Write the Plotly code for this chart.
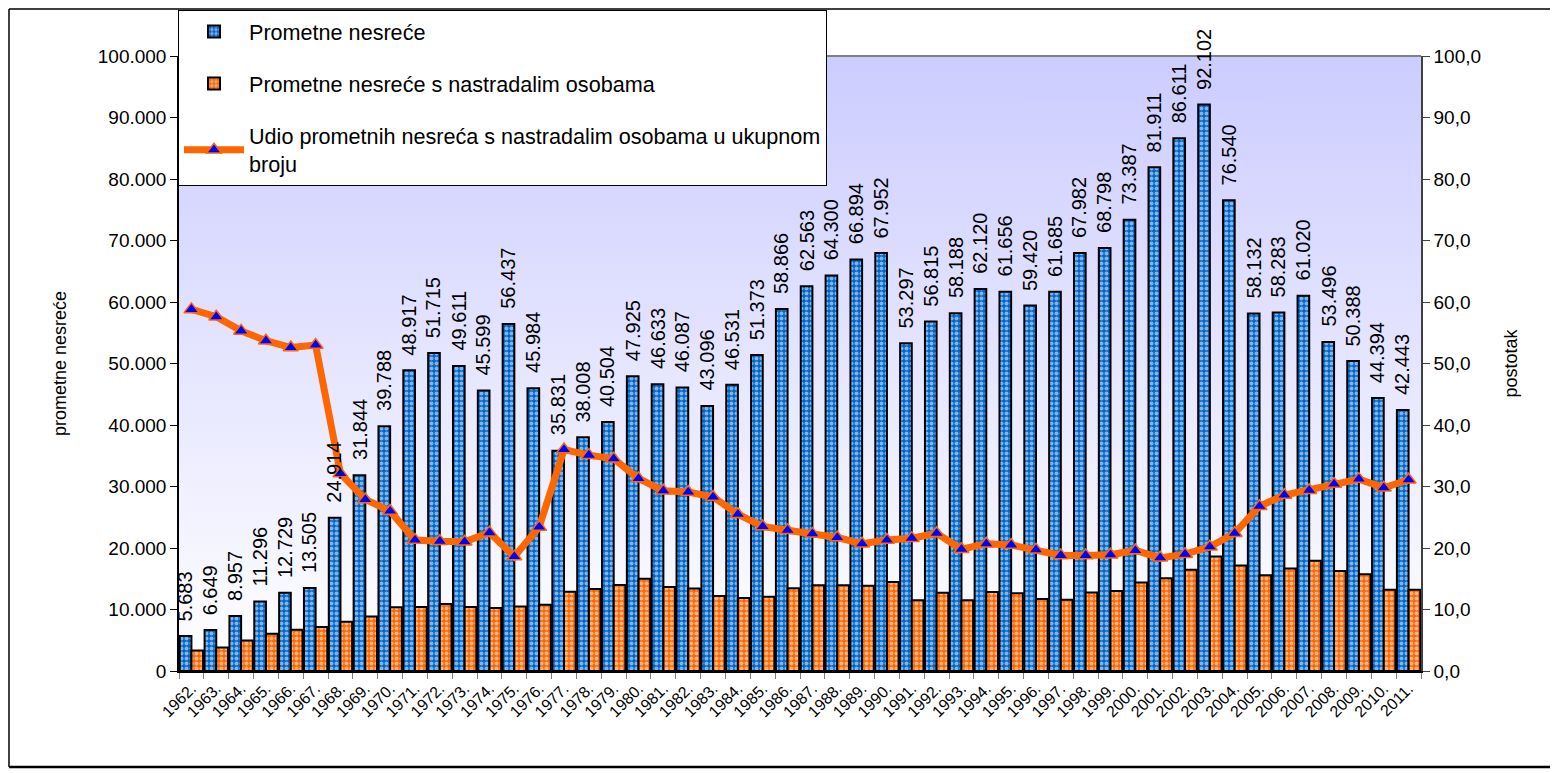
import base64
import plotly.graph_objects as go

years = [f"{y}." for y in range(1962, 2012)]

total_accidents = [5683, 6649, 8957, 11296, 12729, 13505, 24914, 31844, 39788, 48917,
                   51715, 49611, 45599, 56437, 45984, 35831, 38008, 40504, 47925, 46633,
                   46087, 43096, 46531, 51373, 58866, 62563, 64300, 66894, 67952, 53297,
                   56815, 58188, 62120, 61656, 59420, 61685, 67982, 68798, 73387, 81911,
                   86611, 92102, 76540, 58132, 58283, 61020, 53496, 50388, 44394, 42443]

injured_accidents = [3340, 3830, 4950, 6070, 6700, 7160, 8000, 8880, 10350, 10420,
                     10900, 10420, 10260, 10500, 10760, 12900, 13340, 13970, 15000, 13660,
                     13410, 12200, 11870, 12070, 13460, 13950, 13950, 13850, 14470, 11510,
                     12730, 11520, 12860, 12640, 11700, 11600, 12780, 12990, 14380, 15070,
                     16460, 18600, 17150, 15580, 16670, 17940, 16260, 15720, 13230, 13200]

share_pct = [58.8, 57.6, 55.3, 53.7, 52.6, 53.0, 32.1, 27.9, 26.0, 21.3,
             21.1, 21.0, 22.5, 18.6, 23.4, 36.0, 35.1, 34.5, 31.3, 29.3,
             29.1, 28.3, 25.5, 23.5, 22.9, 22.3, 21.7, 20.7, 21.3, 21.6,
             22.4, 19.8, 20.7, 20.5, 19.7, 18.8, 18.8, 18.9, 19.6, 18.4,
             19.0, 20.2, 22.4, 26.8, 28.6, 29.4, 30.4, 31.2, 29.8, 31.1]

FONT = "Arial, Liberation Sans, sans-serif"
BLUE = "#0066cc"
ORANGE = "#ff6600"

# page is rendered with an 8px body margin: work in page pixels and convert
OFF = 8
W, H = 1558 - OFF, 773 - OFF
L, R, T, B = 179 - OFF, 1421 - OFF, 56 - OFF, 671 - OFF
pw, ph = R - L, B - T


def px_x(x):
    return (x - OFF - L) / pw


def px_y(y):
    return (B - (y - OFF)) / ph


fig = go.Figure()

fig.add_trace(go.Bar(
    x=years, y=total_accidents, name="Prometne nesreće", legendgroup="a",
    marker=dict(color=BLUE, line=dict(color="black", width=2),
                pattern=dict(shape=".", fgcolor="white", bgcolor=BLUE, size=5, solidity=0.5)),
))
fig.add_trace(go.Bar(
    x=years, y=injured_accidents, name="Prometne nesreće s nastradalim osobama", legendgroup="b",
    marker=dict(color=ORANGE, line=dict(color="black", width=2),
                pattern=dict(shape=".", fgcolor="white", bgcolor=ORANGE, size=5, solidity=0.5)),
))
fig.add_trace(go.Scatter(
    x=years, y=share_pct, yaxis="y2", mode="lines+markers", legendgroup="c",
    name="Udio prometnih nesreća s nastradalim osobama u ukupnom<br>broju",
    line=dict(color=ORANGE, width=7),
    marker=dict(symbol="triangle-up", size=13, color="#0000ff", line=dict(color=ORANGE, width=1.5)),
))

annotations = []
for i, v in enumerate(total_accidents):
    annotations.append(dict(
        x=i, y=v, xref="x", yref="y", text=f"{v:,}".replace(",", "."),
        textangle=-90, showarrow=False, xanchor="center", yanchor="bottom",
        xshift=-6, yshift=13, font=dict(family=FONT, size=20, color="black"),
    ))

svg = ('<svg xmlns="http://www.w3.org/2000/svg" width="10" height="100" viewBox="0 0 10 100" '
       'preserveAspectRatio="none"><defs><linearGradient id="g" x1="0" y1="0" x2="0" y2="1">'
       '<stop offset="0" stop-color="#ccccff"/><stop offset="1" stop-color="#ffffff"/>'
       '</linearGradient></defs><rect width="10" height="100" fill="url(#g)"/></svg>')
src = "data:image/svg+xml;base64," + base64.b64encode(svg.encode()).decode()

shapes = [
    dict(type="line", xref="paper", yref="paper", x0=0, x1=1, y0=1, y1=1,
         line=dict(color="#808080", width=2)),
    dict(type="line", xref="paper", yref="paper", x0=px_x(9), x1=px_x(1558), y0=px_y(9), y1=px_y(9),
         line=dict(color="black", width=1.5)),
    dict(type="line", xref="paper", yref="paper", x0=px_x(9), x1=px_x(9), y0=px_y(9), y1=px_y(767),
         line=dict(color="black", width=1.5)),
    dict(type="line", xref="paper", yref="paper", x0=px_x(9), x1=px_x(1552), y0=px_y(767), y1=px_y(767),
         line=dict(color="black", width=2.5)),
]

fig.update_layout(
    width=W, height=H,
    margin=dict(l=L, r=W - R, t=T, b=H - B, autoexpand=False),
    paper_bgcolor="white", plot_bgcolor="rgba(0,0,0,0)",
    separators=",.",
    barmode="group", bargap=0.06, bargroupgap=0,
    font=dict(family=FONT, color="black"),
    images=[dict(source=src, xref="paper", yref="paper", x=0, y=1, sizex=1, sizey=1,
                 sizing="stretch", xanchor="left", yanchor="top", layer="below")],
    shapes=shapes,
    annotations=annotations,
    legend=dict(x=px_x(178), y=px_y(10), xanchor="left", yanchor="top",
                bgcolor="white", bordercolor="black", borderwidth=1,
                font=dict(family=FONT, size=21.6, color="black"),
                tracegroupgap=21, itemwidth=60),
    xaxis=dict(type="category", range=[-0.5, len(years) - 0.5], tickmode="linear", dtick=1,
               tickangle=-45, automargin=False,
               tickfont=dict(family=FONT, size=16, color="black"),
               showline=True, linecolor="black", linewidth=2,
               ticks="outside", tickson="boundaries", ticklen=6, tickcolor="#808080",
               showgrid=False, zeroline=False),
    yaxis=dict(range=[0, 100000], dtick=10000, tickformat=",d", automargin=False,
               tickfont=dict(family=FONT, size=19, color="black"),
               showline=True, linecolor="black", linewidth=1.5,
               ticks="outside", ticklen=7, tickcolor="black",
               showgrid=False, zeroline=False,
               title=dict(text="prometne nesreće", font=dict(family=FONT, size=18, color="black"),
                          standoff=26)),
    yaxis2=dict(range=[0, 100], dtick=10, tickformat=".1f", overlaying="y", side="right",
                automargin=False,
                tickfont=dict(family=FONT, size=19, color="black"),
                showline=True, linecolor="#404040", linewidth=1.5,
                ticks="outside", ticklen=7, tickcolor="#404040",
                showgrid=False, zeroline=False,
                title=dict(text="postotak", font=dict(family=FONT, size=18, color="black"),
                           standoff=24)),
)

fig.write_html("out.html")
